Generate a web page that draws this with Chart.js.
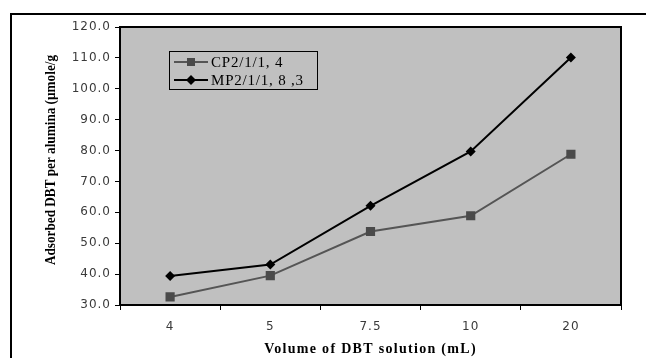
<!DOCTYPE html>
<html>
<head>
<meta charset="utf-8">
<script src="https://cdn.jsdelivr.net/npm/chart.js@4"></script>
<style>
  html, body { margin: 0; padding: 0; background: #fff; }
  #wrap { position: relative; width: 646px; height: 358px; overflow: hidden; }
  #frame { position: absolute; left: 10px; top: 13px; width: 700px; height: 400px;
           border-top: 2px solid #000; border-left: 2px solid #000; }
  #chart { position: absolute; left: 0; top: 0; }
</style>
</head>
<body>
<div id="wrap">
  <div id="frame"></div>
  <canvas id="chart" width="646" height="358"></canvas>
</div>
<script>
// ── Data ──────────────────────────────────
const volumes  = ['4', '5', '7.5', '10', '20'];
const cpValues = [32.6, 39.5, 53.8, 58.9, 78.8];
const mpValues = [39.4, 43.1, 62.1, 79.7, 110.1];
const yTicks   = [30, 40, 50, 60, 70, 80, 90, 100, 110, 120];

const xTitle = 'Volume of DBT solution (mL)';
const yTitle = 'Adsorbed DBT per alumina (µmole/g';

const PLOT_BG = '#c0c0c0';

// ── Plot background, frame, legend, axis titles ──
const decor = {
  id: 'decor',
  beforeDraw(chart) {
    const { ctx, chartArea: a } = chart;
    ctx.save();
    ctx.fillStyle = PLOT_BG;
    ctx.fillRect(a.left, a.top, a.right - a.left, a.bottom - a.top);
    ctx.restore();
    // wide tick labels like the original
    ctx.letterSpacing = '1px';
  },
  afterDraw(chart) {
    const { ctx, chartArea: a } = chart;
    ctx.letterSpacing = '0px';
    ctx.save();
    ctx.strokeStyle = '#000';
    ctx.lineWidth = 2;
    ctx.strokeRect(a.left, a.top, a.right - a.left, a.bottom - a.top);

    // legend box
    const bx = 169, by = 51, bw = 148, bh = 38;
    ctx.lineWidth = 1;
    ctx.strokeRect(bx + 0.5, by + 0.5, bw, bh);
    ctx.font = '15px "Liberation Serif"';
    ctx.letterSpacing = '0.8px';
    ctx.textBaseline = 'middle';
    chart.data.datasets.forEach((ds, i) => {
      const y = by + 11 + i * 18;
      ctx.strokeStyle = ds.borderColor;
      ctx.lineWidth = 2;
      ctx.beginPath();
      ctx.moveTo(174, y);
      ctx.lineTo(208, y);
      ctx.stroke();
      ctx.fillStyle = ds.pointBackgroundColor;
      ctx.beginPath();
      if (ds.pointStyle === 'rect') {
        ctx.rect(191 - 4, y - 4, 8, 8);
      } else {
        ctx.moveTo(191 - 5, y); ctx.lineTo(191, y - 5);
        ctx.lineTo(191 + 5, y); ctx.lineTo(191, y + 5);
        ctx.closePath();
      }
      ctx.fill();
      ctx.fillStyle = '#000';
      ctx.fillText(ds.label, 211, y + 1);
    });

    // x axis title (spaced letters)
    ctx.font = 'bold 14px "Liberation Serif"';
    ctx.letterSpacing = '1.3px';
    ctx.textAlign = 'center';
    ctx.fillStyle = '#000';
    ctx.fillText(xTitle, (a.left + a.right) / 2, 349);

    // y axis title (condensed, rotated)
    ctx.letterSpacing = '0px';
    ctx.font = 'bold 15px "Liberation Serif"';
    ctx.translate(51, 160);
    ctx.rotate(-Math.PI / 2);
    ctx.scale(0.88, 1);
    ctx.fillText(yTitle, 0, 0);
    ctx.restore();
  }
};

new Chart(document.getElementById('chart'), {
  type: 'line',
  data: {
    labels: volumes,
    datasets: [
      {
        label: 'CP2/1/1, 4',
        data: cpValues,
        borderColor: '#555555',
        backgroundColor: '#555555',
        pointBackgroundColor: '#4a4a4a',
        pointBorderWidth: 0,
        pointStyle: 'rect',
        pointRadius: 6.5,
        borderWidth: 2,
        tension: 0
      },
      {
        label: 'MP2/1/1, 8 ,3',
        data: mpValues,
        borderColor: '#000000',
        backgroundColor: '#000000',
        pointBackgroundColor: '#000000',
        pointBorderWidth: 0,
        pointStyle: 'rectRot',
        pointRadius: 5,
        borderWidth: 2,
        tension: 0
      }
    ]
  },
  options: {
    responsive: false,
    animation: false,
    layout: { padding: { left: 0, top: 27, right: 25, bottom: 0 } },
    plugins: {
      legend: { display: false },
      tooltip: { enabled: false }
    },
    scales: {
      x: {
        offset: true,
        grid: { offset: true, drawOnChartArea: false, tickLength: 5, color: '#000', lineWidth: 1 },
        border: { color: '#000', width: 2 },
        ticks: { color: '#3a3a3a', padding: 10, font: { family: 'DejaVu Sans', size: 12 } },
        afterFit: s => { s.height = 53; }
      },
      y: {
        min: yTicks[0],
        max: yTicks[yTicks.length - 1],
        afterBuildTicks: s => { s.ticks = yTicks.map(v => ({ value: v })); },
        grid: { drawOnChartArea: false, tickLength: 5, color: '#000', lineWidth: 1 },
        border: { color: '#000', width: 2 },
        ticks: {
          color: '#3a3a3a',
          padding: 4,
          font: { family: 'DejaVu Sans', size: 12 },
          callback: v => Number(v).toFixed(1)
        },
        afterFit: s => { s.width = 120; }
      }
    }
  },
  plugins: [decor]
});
</script>
</body>
</html>
